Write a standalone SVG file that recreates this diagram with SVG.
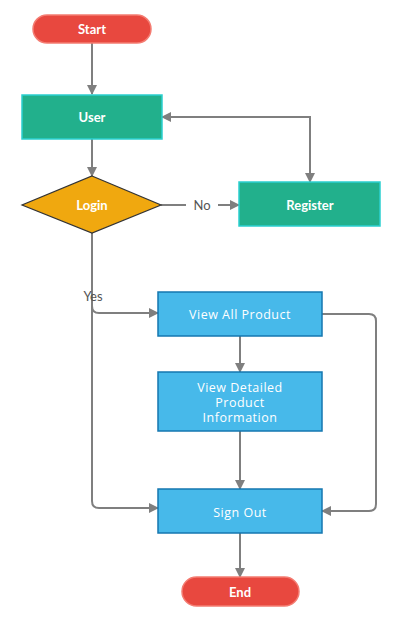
<svg xmlns="http://www.w3.org/2000/svg" width="403" height="621" viewBox="0 0 403 621">
<defs>
<marker id="ah" markerWidth="10" markerHeight="10" refX="9" refY="5" orient="auto-start-reverse" markerUnits="userSpaceOnUse">
<path d="M0,0 L10,5 L0,10 Z" fill="#7f7f7f"/>
</marker>
<style>
.term{fill:#e8483f;stroke:#f47c72;stroke-width:1.5}
.green{fill:#22b08c;stroke:#2bd0d0;stroke-width:1.5}
.dia{fill:#f0a80f;stroke:#333;stroke-width:1.2}
.blue{fill:#47b9ea;stroke:#1577b0;stroke-width:1.5}
.lbl{font-family:Lato,"Liberation Sans",sans-serif;font-size:13px;font-weight:bold;fill:#fff;text-anchor:middle;dominant-baseline:central}
.lblb{font-family:"Open Sans","Liberation Sans",sans-serif;font-size:12.5px;font-weight:500;letter-spacing:0.5px;fill:#fff;text-anchor:middle;dominant-baseline:central}
.edge{fill:none;stroke:#7f7f7f;stroke-width:2}
.elbl{font-family:Lato,"Liberation Sans",sans-serif;font-size:13px;fill:#555;text-anchor:middle;dominant-baseline:central}
</style>
</defs>
<rect width="403" height="621" fill="#fff"/>
<g id="connectors">
<path class="edge" d="M92,43 V94" marker-end="url(#ah)"/>
<path class="edge" d="M92,139 V176" marker-end="url(#ah)"/>
<path class="edge" d="M161,205 H186 M218,205 H239" marker-end="url(#ah)"/>
<path class="edge" d="M162,117 H310 V182" marker-start="url(#ah)" marker-end="url(#ah)"/>
<path class="edge" d="M92,233 V306 Q92,313 99,313 H158" marker-end="url(#ah)"/>
<path class="edge" d="M92,300 V501 Q92,508 99,508 H158" marker-end="url(#ah)"/>
<path class="edge" d="M240,336 V372" marker-end="url(#ah)"/>
<path class="edge" d="M240,431 V489" marker-end="url(#ah)"/>
<path class="edge" d="M322,314 H369 Q376,314 376,321 V504 Q376,511 369,511 H322" marker-end="url(#ah)"/>
<path class="edge" d="M240,533 V577" marker-end="url(#ah)"/>
<text class="elbl" x="202" y="205">No</text>
<text class="elbl" x="93" y="296">Yes</text>
</g>
<g id="start"><rect class="term" x="33" y="15" width="118" height="28" rx="14"/><text class="lbl" x="92" y="29">Start</text></g>
<g id="user"><rect class="green" x="22" y="95" width="140" height="44"/><text class="lbl" x="92" y="117">User</text></g>
<g id="login"><path class="dia" d="M92,176 L161,205 L92,233 L22,205 Z"/><text class="lbl" x="92" y="205">Login</text></g>
<g id="register"><rect class="green" x="239" y="182" width="141" height="44"/><text class="lbl" x="310" y="205">Register</text></g>
<g id="viewall"><rect class="blue" x="158" y="292" width="164" height="44"/><text class="lblb" x="240" y="314">View All Product</text></g>
<g id="viewdetail"><rect class="blue" x="158" y="372" width="164" height="59"/><text class="lblb" x="240" y="386.5"><tspan x="240" y="386.5">View Detailed</tspan><tspan x="240" y="401.5">Product</tspan><tspan x="240" y="416.5">Information</tspan></text></g>
<g id="signout"><rect class="blue" x="158" y="489" width="164" height="44"/><text class="lblb" x="240" y="512">Sign Out</text></g>
<g id="end"><rect class="term" x="182" y="577" width="117" height="29" rx="14.5"/><text class="lbl" x="240" y="592">End</text></g>
</svg>
